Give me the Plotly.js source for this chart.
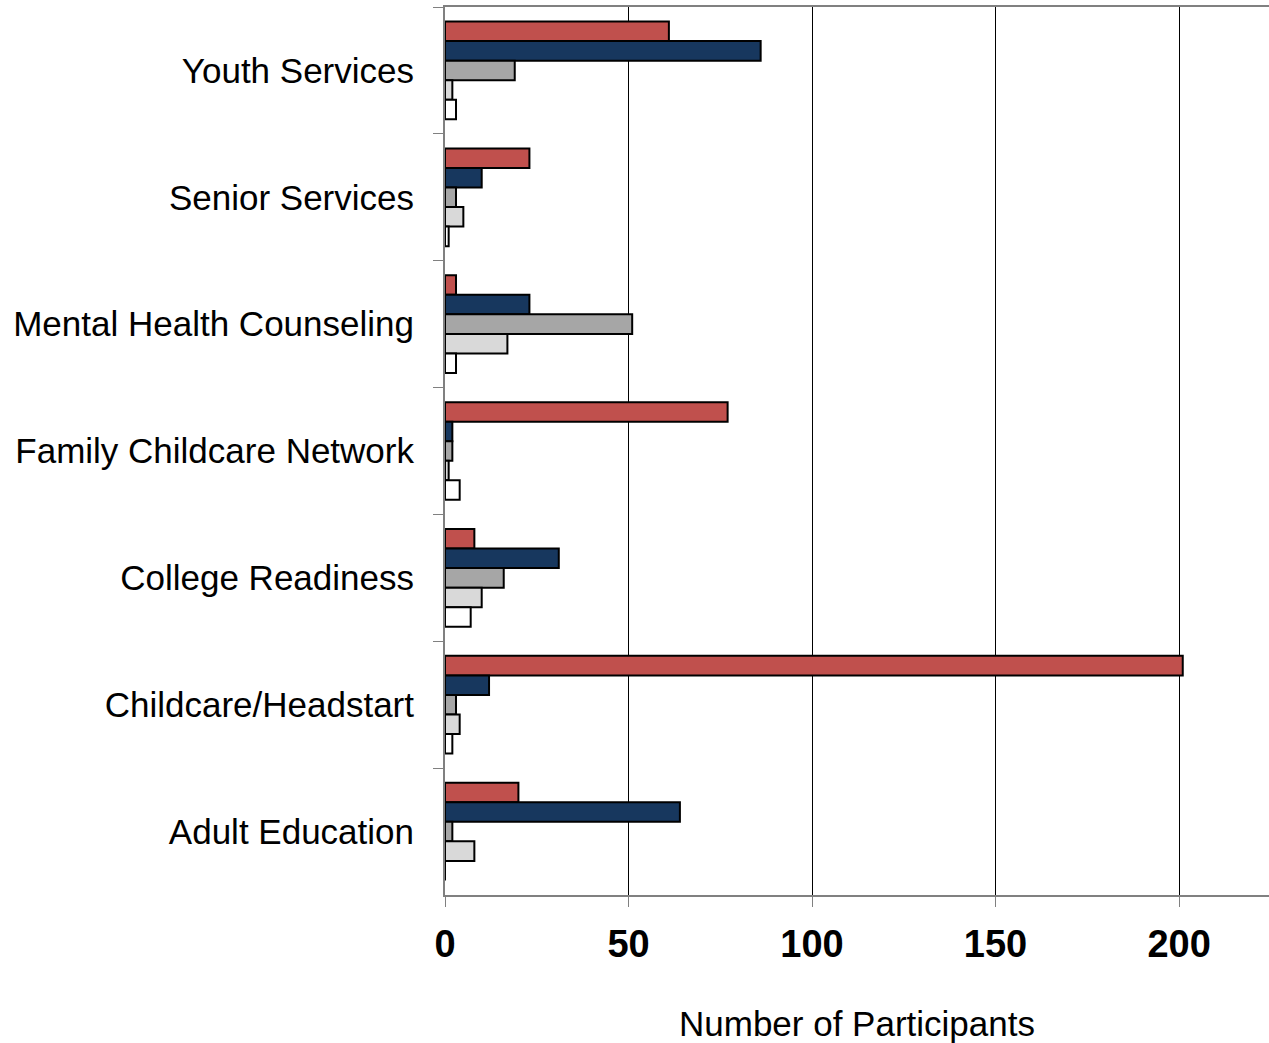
<!DOCTYPE html>
<html>
<head>
<meta charset="utf-8">
<script src="https://cdn.plot.ly/plotly-3.0.1.min.js"></script>
<style>html,body{margin:0;padding:0;background:#fff;}#chart{width:1269px;height:1043px;}</style>
</head>
<body>
<div id="chart"></div>
<script>
const categories = ["Youth Services", "Senior Services", "Mental Health Counseling", "Family Childcare Network", "College Readiness", "Childcare/Headstart", "Adult Education"];
const seriesA = [61, 23, 3, 77, 8, 201, 20];
const seriesB = [86, 10, 23, 2, 31, 12, 64];
const seriesC = [19, 3, 51, 2, 16, 3, 2];
const seriesD = [2, 5, 17, 1, 10, 4, 8];
const seriesE = [3, 1, 3, 4, 7, 2, 0];
const seriesNames = ["Series 1", "Series 2", "Series 3", "Series 4", "Series 5"];
const seriesColors = ["#C0504D", "#17375E", "#A6A6A6", "#D9D9D9", "#FFFFFF"];
const xTicks = [0, 50, 100, 150, 200];

const allSeries = [seriesA, seriesB, seriesC, seriesD, seriesE];
const data = allSeries.map((vals, i) => ({
  type: "bar",
  orientation: "h",
  y: categories,
  x: vals,
  name: seriesNames[i],
  marker: { color: seriesColors[i], line: { color: "#000000", width: 2 } },
  hoverinfo: "x+y"
}));

const layout = {
  width: 1269,
  height: 1043,
  margin: { l: 445, r: 0, t: 7, b: 148 },
  paper_bgcolor: "#ffffff",
  plot_bgcolor: "#ffffff",
  showlegend: false,
  barmode: "group",
  bargap: 0.23,
  bargroupgap: 0,
  font: { family: "Liberation Sans, Arial, sans-serif", color: "#000" },
  xaxis: {
    range: [0, 224.5],
    tickvals: xTicks,
    ticktext: xTicks.map(String),
    tickfont: { size: 38, family: "Liberation Sans, Arial, sans-serif", weight: "bold", color: "#000" },
    showgrid: true,
    gridcolor: "#000000",
    gridwidth: 1,
    zeroline: false,
    showline: true,
    linecolor: "#808080",
    linewidth: 2,
    mirror: true,
    ticks: "outside",
    ticklen: 10,
    tickcolor: "#808080",
    tickwidth: 1,
    ticklabelstandoff: 4,
    title: { text: "Number of Participants", font: { size: 35, color: "#000" }, standoff: 48 }
  },
  yaxis: {
    type: "category",
    autorange: "reversed",
    tickfont: { size: 35, color: "#000" },
    showline: true,
    linecolor: "#808080",
    linewidth: 2,
    ticks: "outside",
    tickson: "boundaries",
    ticklen: 10,
    tickcolor: "#808080",
    tickwidth: 1,
    showgrid: false,
    ticklabelstandoff: 22
  }
};

Plotly.newPlot("chart", data, layout, { displayModeBar: false, staticPlot: true });
</script>
</body>
</html>
